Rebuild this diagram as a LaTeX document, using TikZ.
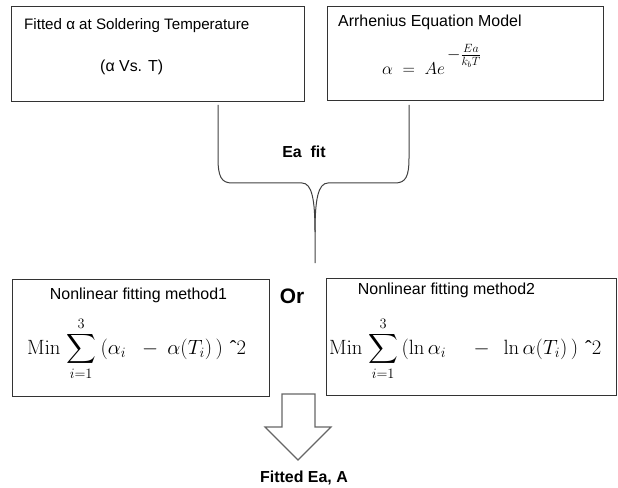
\documentclass[tikz,border=0pt]{standalone}
\usepackage{amsmath}
\usepackage[no-math]{fontspec}
\setmainfont{Liberation Sans}
\newfontfamily\serifx{Liberation Serif}
\newcommand{\caretsym}{\mbox{\serifx ˆ}}
\begin{document}
\begin{tikzpicture}[x=1bp,y=-1bp,
  box/.style={draw=black!80,line width=1bp,inner sep=0pt},
  lbl/.style={inner sep=0pt,font=\fontsize{16}{19}\selectfont},
  blbl/.style={inner sep=0pt,font=\fontsize{16}{19}\selectfont\bfseries},
  frm/.style={inner sep=0pt,font=\fontsize{17}{20}\selectfont},
  sfrm/.style={inner sep=0pt,font=\fontsize{20}{23}\selectfont},
  brace/.style={draw=black!75,line width=1bp},
  blockarrow/.style={draw=black!60,line width=1.2bp,line join=miter}]
\useasboundingbox (0,0) rectangle (618,488);
% boxes
\node[box,minimum width=292bp,minimum height=95bp] (b1) at (158,54.5) {};
\node[box,minimum width=276bp,minimum height=94bp] (b2) at (465,54) {};
\node[box,minimum width=256bp,minimum height=117bp] (b3) at (141,337.5) {};
\node[box,minimum width=290bp,minimum height=117bp] (b4) at (471,336.5) {};
% texts in top boxes
\node[lbl,anchor=west,font=\fontsize{15.2}{18}\selectfont] (t1) at (24,26) {Fitted α at Soldering Temperature};
\node[lbl,anchor=west] (t1b) at (100,67) {(α Vs. T)};
\node[lbl,anchor=west] (t2) at (338,22) {Arrhenius Equation Model};
\node[frm,anchor=base west] (f2) at (382,75) {$\alpha \;=\; Ae^{\mkern3mu\raisebox{9bp}{$\textstyle -\frac{Ea}{k_{b}T}$}}$};
% brace
\coordinate (bl) at (218,105);
\coordinate (br) at (409,105);
\coordinate (tip) at (315,263);
\draw[brace] (bl) -- (218,158) .. controls (218,176) and (221,183) .. (232,183) -- (302,183)
  .. controls (312,183) and (315,200) .. (315,232) -- (tip);
\draw[brace] (br) -- (409,158) .. controls (409,176) and (406,183) .. (395,183) -- (328,183)
  .. controls (318,183) and (315,200) .. (315,232);
\node[blbl] (eafit) at (304,152) {Ea\ \ fit};
% lower boxes
\node[lbl] (t3) at (138.5,295) {Nonlinear fitting method1};
\node[sfrm,anchor=base west] (f3) at (27,354) {$\displaystyle \mathrm{Min}\mkern2mu\sum_{i=1}^{3}\mkern4mu(\alpha_{i}\mkern10mu-\mkern4mu\alpha(T_{i})\mkern3mu)\mkern6mu\caretsym 2$};
\node[lbl] (t4) at (446.5,290) {Nonlinear fitting method2};
\node[sfrm,anchor=base west] (f4) at (329,354) {$\displaystyle \mathrm{Min}\mkern2mu\sum_{i=1}^{3}\mkern3mu(\ln\alpha_{i}\mkern20mu-\mkern8mu\ln\alpha(T_{i})\mkern3mu)\mkern6mu\caretsym 2$};
\node[inner sep=0pt,font=\fontsize{21}{25}\selectfont\bfseries] (or) at (292,296) {Or};
% block arrow
\draw[blockarrow] (282,394) -- (315,394) -- (315,427) -- (331,427) -- (298,460) -- (265,427) -- (282,427) -- cycle;
\node[blbl] (res) at (304,478) {Fitted Ea, A};
\end{tikzpicture}
\end{document}
